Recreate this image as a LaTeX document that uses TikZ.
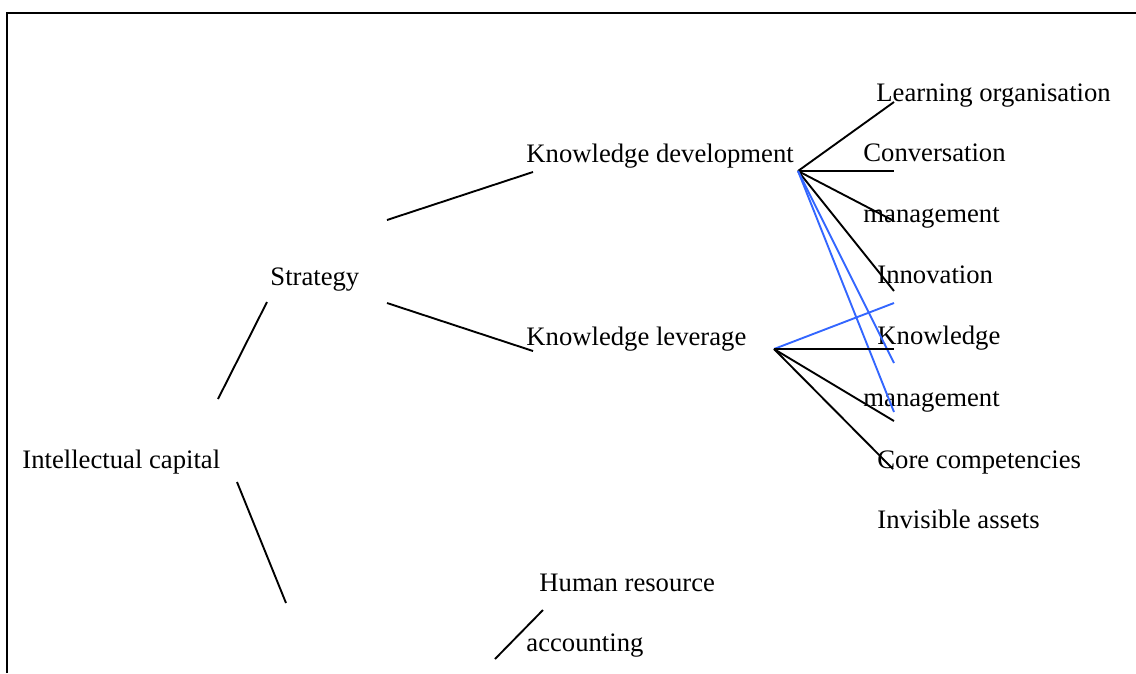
\documentclass[tikz,border=0pt]{standalone}
\usepackage{fontspec}
\setmainfont{Liberation Serif}
\usepackage{tikz}

\tikzset{
	lbl/.style={anchor=base west, inner sep=0pt, font=\fontsize{12}{14}\selectfont},
	twig/.style={line width=0.85pt},
	bluetwig/.style={line width=0.85pt, draw=linkblue},
}
\definecolor{linkblue}{RGB}{51,102,255}

\begin{document}
\begin{tikzpicture}[x=0.45pt, y=-0.45pt]

	\useasboundingbox (0,0) rectangle (1136,673);
	\draw [line width=1.2pt] (7,673) -- (7,13) -- (1136,13);

	\node [lbl] (ic) at (22,468) {Intellectual capital};
	\node [lbl] (strat) at (270,285) {Strategy};
	\node [lbl] (kdev) at (526,162) {Knowledge development};
	\node [lbl] (klev) at (526,345) {Knowledge leverage};
	\node [lbl] (hra) at (539,591) {Human resource};
	\node [lbl] (hrb) at (526,651) {accounting};

	\node [lbl] (learn) at (876,101) {Learning organisation};
	\node [lbl] (conv) at (863,161) {Conversation};
	\node [lbl] (mgta) at (863,222) {management};
	\node [lbl] (innov) at (877,283) {Innovation};
	\node [lbl] (know) at (877,344) {Knowledge};
	\node [lbl] (mgtb) at (863,406) {management};
	\node [lbl] (core) at (877,468) {Core competencies};
	\node [lbl] (invis) at (877,528) {Invisible assets};

	% left branches
	\coordinate (ic-up) at (218,399);
	\coordinate (st-dn) at (267,302);
	\coordinate (ic-dn) at (237,482);
	\coordinate (hr-end) at (286,603);
	\coordinate (st-r1) at (387,220);
	\coordinate (kd-l) at (533,172);
	\coordinate (st-r2) at (387,303);
	\coordinate (kl-l) at (533,351);
	\coordinate (hr-a) at (543,610);
	\coordinate (hr-b) at (495,659);

	\draw [twig] (ic-up) -- (st-dn);
	\draw [twig] (ic-dn) -- (hr-end);
	\draw [twig] (st-r1) -- (kd-l);
	\draw [twig] (st-r2) -- (kl-l);
	\draw [twig] (hr-a) -- (hr-b);

	% fans on the right
	\coordinate (kd-hub) at (798,171);
	\coordinate (kl-hub) at (774,349);
	\coordinate (f1) at (894,102);
	\coordinate (f2) at (894,171);
	\coordinate (f3) at (894,221);
	\coordinate (f4) at (894,291);
	\coordinate (f5) at (894,303);
	\coordinate (f6) at (894,349);
	\coordinate (f7) at (894,363);
	\coordinate (f8) at (894,412);
	\coordinate (f9) at (894,421);
	\coordinate (f10) at (893,469);

	\draw [twig] (kd-hub) -- (f1);
	\draw [twig] (kd-hub) -- (f2);
	\draw [twig] (kd-hub) -- (f3);
	\draw [twig] (kd-hub) -- (f4);
	\draw [bluetwig] (kd-hub) -- (f7);
	\draw [bluetwig] (kd-hub) -- (f8);

	\draw [bluetwig] (kl-hub) -- (f5);
	\draw [twig] (kl-hub) -- (f6);
	\draw [twig] (kl-hub) -- (f9);
	\draw [twig] (kl-hub) -- (f10);

\end{tikzpicture}
\end{document}
